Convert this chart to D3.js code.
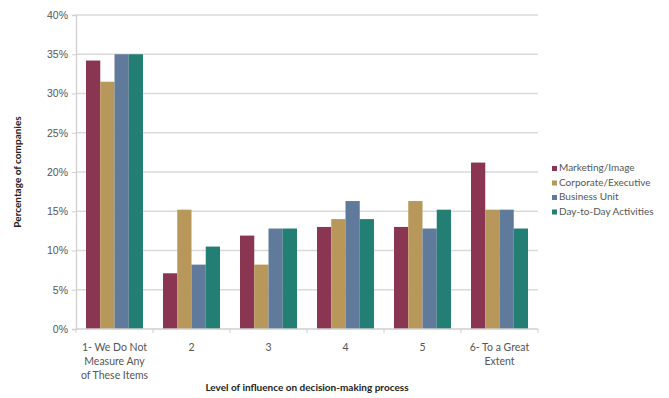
<!DOCTYPE html>
<html>
<head>
<meta charset="utf-8">
<script src="https://cdn.jsdelivr.net/npm/d3@7"></script>
<style>
  body { margin: 0; background: #fff; }
  svg { display: block; font-family: Lato, "Open Sans", sans-serif; }
</style>
</head>
<body>
<svg id="chart" width="669" height="398"></svg>
<script>
// Categories (x axis), possibly multi-line labels
const categories = ["1", "2", "3", "4", "5", "6"];
const categoryLabels = [
  ["1- We Do Not", "Measure Any", "of These Items"],
  ["2"], ["3"], ["4"], ["5"],
  ["6- To a Great", "Extent"]
];

// Series values (percent of companies)
const seriesNames = ["Marketing/Image", "Corporate/Executive", "Business Unit", "Day-to-Day Activities"];
const marketing = [34.2, 7.1, 11.9, 13.0, 13.0, 21.2];
const corporate = [31.5, 15.2, 8.2, 14.0, 16.3, 15.2];
const businessUnit = [35.0, 8.2, 12.8, 16.3, 12.8, 15.2];
const dayToDay = [35.0, 10.5, 12.8, 14.0, 15.2, 12.8];
const seriesValues = [marketing, corporate, businessUnit, dayToDay];
const seriesColors = ["#8a3652", "#b8975a", "#5f7a9b", "#237f74"];

const yTicks = [0, 5, 10, 15, 20, 25, 30, 35, 40];

const svg = d3.select("#chart");
const margin = { left: 76, right: 131, top: 15, bottom: 69 };
const W = 669, H = 398;
const plotW = W - margin.left - margin.right;
const plotH = H - margin.top - margin.bottom;

const g = svg.append("g").attr("transform", `translate(${margin.left},${margin.top})`);

const x0 = d3.scaleBand().domain(categories).range([0, plotW]).paddingInner(0.26).paddingOuter(0.13);
const x1 = d3.scaleBand().domain(d3.range(seriesNames.length)).range([0, x0.bandwidth()]);
const y = d3.scaleLinear().domain([0, 40]).range([plotH, 0]);

// Gridlines
g.append("g")
  .selectAll("line")
  .data(yTicks.filter(t => t > 0))
  .join("line")
  .attr("x1", 0).attr("x2", plotW)
  .attr("y1", d => y(d)).attr("y2", d => y(d))
  .attr("stroke", "#dadada").attr("stroke-width", 1.3);

// Y axis
const yAxis = g.append("g")
  .call(d3.axisLeft(y).tickValues(yTicks).tickFormat(d => d + "%").tickSize(4).tickPadding(4));
yAxis.select(".domain").attr("stroke", "#cfcfcf").attr("stroke-width", 1.3);
yAxis.selectAll(".tick line").attr("stroke", "#cfcfcf");
yAxis.selectAll("text").attr("fill", "#555").attr("font-size", 10.5);

// Bars
const groups = g.append("g")
  .selectAll("g")
  .data(categories)
  .join("g")
  .attr("transform", d => `translate(${x0(d)},0)`);

groups.selectAll("rect")
  .data((d, i) => seriesValues.map((vals, s) => ({ s, v: vals[i] })))
  .join("rect")
  .attr("x", d => x1(d.s))
  .attr("width", x1.bandwidth())
  .attr("y", d => y(d.v))
  .attr("height", d => plotH - y(d.v))
  .attr("fill", d => seriesColors[d.s]);

// X axis baseline and ticks between categories
const step = x0.step();
g.append("line")
  .attr("x1", 0).attr("x2", plotW).attr("y1", plotH).attr("y2", plotH)
  .attr("stroke", "#cfcfcf").attr("stroke-width", 1.3);
g.append("g").selectAll("line")
  .data(d3.range(categories.length + 1))
  .join("line")
  .attr("x1", i => i * plotW / categories.length)
  .attr("x2", i => i * plotW / categories.length)
  .attr("y1", plotH).attr("y2", plotH + 4)
  .attr("stroke", "#cfcfcf");

// X tick labels
const xl = g.append("g");
categories.forEach((c, i) => {
  const cx = x0(c) + x0.bandwidth() / 2;
  const t = xl.append("text")
    .attr("x", cx).attr("y", plotH + 22)
    .attr("text-anchor", "middle")
    .attr("fill", "#555").attr("font-size", 10.5);
  categoryLabels[i].forEach((line, k) => {
    t.append("tspan").attr("x", cx).attr("dy", k === 0 ? 0 : 14).text(line);
  });
});

// Axis titles
svg.append("text")
  .attr("x", 307).attr("y", 391)
  .attr("text-anchor", "middle")
  .attr("font-size", 10).attr("font-weight", "bold").attr("fill", "#222")
  .text("Level of influence on decision-making process");

svg.append("text")
  .attr("transform", "translate(21,172) rotate(-90)")
  .attr("text-anchor", "middle")
  .attr("font-size", 10).attr("font-weight", "bold").attr("fill", "#222")
  .text("Percentage of companies");

// Legend
const legend = svg.append("g").attr("transform", "translate(552,171)");
seriesNames.forEach((name, i) => {
  const row = legend.append("g").attr("transform", `translate(0,${i * 14.5})`);
  row.append("rect").attr("x", 0).attr("y", -5).attr("width", 5).attr("height", 5).attr("fill", seriesColors[i]);
  row.append("text").attr("x", 7).attr("y", 0).attr("font-size", 10).attr("fill", "#555").text(name);
});
</script>
</body>
</html>
